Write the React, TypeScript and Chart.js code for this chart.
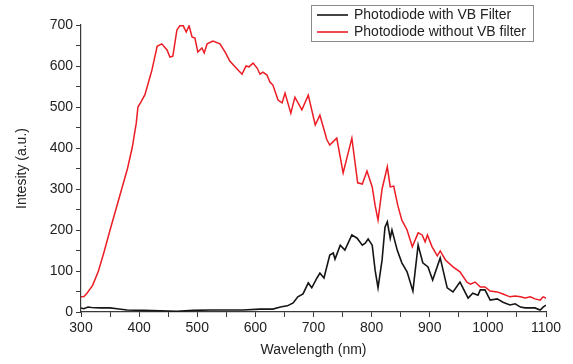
import React, { useEffect, useRef } from "react";
import { Chart, registerables } from "chart.js";

Chart.register(...registerables);

// Photodiode without VB filter (red)
const redWavelength = [
  300, 305, 310, 320, 330, 340, 350, 360, 370, 380, 388, 395, 398, 403, 410, 415, 422, 431, 439, 448,
  453, 458, 465, 470, 476, 481, 486, 491, 496, 501, 508, 512, 517, 527, 539, 548, 556, 565, 577, 584,
  589, 596, 603, 608, 613, 620, 625, 630, 639, 646, 651, 661, 668, 680, 691, 703, 711, 723, 728, 740,
  751, 766, 776, 784, 792, 801, 806, 811, 818, 827, 832, 838, 845, 852, 861, 870, 880, 887, 892, 896,
  904, 913, 918, 927, 940, 952, 964, 970, 978, 987, 995, 1004, 1016, 1026, 1038, 1047, 1056, 1064, 1073, 1081,
  1090, 1095, 1100,
];
const redIntensity = [
  37, 38, 45, 65, 100, 148, 200, 250, 300, 350, 400, 460, 500, 512, 530, 555, 590, 648, 654, 639,
  622, 624, 688, 698, 698, 683, 698, 671, 668, 634, 644, 632, 654, 661, 654, 634, 612, 598, 580, 600,
  598, 607, 595, 580, 585, 578, 561, 554, 517, 510, 534, 485, 524, 493, 529, 456, 480, 420, 407, 424,
  339, 424, 315, 312, 344, 305, 260, 224, 300, 354, 305, 307, 260, 224, 200, 159, 193, 188, 171, 188,
  159, 137, 149, 127, 110, 98, 73, 68, 73, 61, 61, 51, 49, 44, 37, 39, 37, 34, 37, 32,
  29, 37, 34,
];

// Photodiode with VB Filter (black)
const blackWavelength = [
  300, 305, 312, 318, 333, 350, 362, 379, 407, 436, 465, 493, 522, 551, 579, 608, 630, 643, 655, 665,
  673, 682, 691, 697, 706, 711, 718, 728, 734, 737, 746, 754, 766, 775, 784, 789, 794, 801, 806, 811,
  818, 823, 827, 832, 835, 844, 852, 861, 871, 880, 888, 897, 905, 918, 930, 940, 952, 966, 974, 983,
  987, 995, 1004, 1016, 1026, 1038, 1047, 1056, 1064, 1073, 1081, 1090, 1095, 1100,
];
const blackIntensity = [
  10, 8, 12, 11, 10, 10, 8, 5, 4, 3, 2, 4, 5, 5, 5, 7, 7, 12, 15, 22,
  37, 44, 71, 59, 83, 95, 83, 139, 144, 129, 163, 151, 188, 180, 163, 168, 178, 163, 102, 59,
  127, 207, 220, 180, 200, 151, 120, 98, 51, 163, 120, 110, 78, 132, 59, 49, 73, 34, 46, 41,
  54, 54, 29, 32, 24, 17, 20, 12, 10, 10, 10, 5, 12, 17,
];

const seriesLabels = ["Photodiode with VB Filter", "Photodiode without VB filter"];
const seriesColors = ["#151515", "#ec1c24"];

const xTitle = "Wavelength (nm)";
const yTitle = "Intesity (a.u.)";
const xMin = 300;
const xMax = 1100;
const yMin = 0;
const yMax = 700;
const minorStep = 50;
const majorStep = 100;

const FONT = "'Liberation Sans', Arial, Helvetica, sans-serif";
const AXIS_COLOR = "#3a3a3a";
const TEXT_COLOR = "#222";

const legendBoxPlugin = {
  id: "legendBox",
  afterDraw(chart: any) {
    const ctx = chart.ctx;
    const area = chart.chartArea;
    const boxLeft = area.right - 235;
    const boxTop = 4.5;
    const boxW = 222;
    const boxH = 36;
    ctx.save();
    ctx.fillStyle = "#ffffff";
    ctx.fillRect(boxLeft, boxTop, boxW, boxH);
    ctx.strokeStyle = "#8a8a8a";
    ctx.lineWidth = 1;
    ctx.strokeRect(Math.round(boxLeft) + 0.5, Math.round(boxTop) + 0.5, boxW, boxH);
    ctx.font = `14px ${FONT}`;
    ctx.textBaseline = "middle";
    ctx.textAlign = "left";
    const rows = [15, 32];
    chart.data.datasets.forEach((ds: any, i: number) => {
      const y = rows[i];
      ctx.strokeStyle = ds.borderColor;
      ctx.lineWidth = 1.6;
      ctx.beginPath();
      ctx.moveTo(boxLeft + 6, y);
      ctx.lineTo(boxLeft + 37, y);
      ctx.stroke();
      ctx.fillStyle = TEXT_COLOR;
      ctx.fillText(ds.label, boxLeft + 43, y + 0.5);
    });
    ctx.restore();
  },
};

export default function App() {
  const canvasRef = useRef<HTMLCanvasElement | null>(null);

  useEffect(() => {
    const canvas = canvasRef.current;
    if (!canvas) return;
    const blackPoints = blackWavelength.map((x, i) => ({ x, y: blackIntensity[i] }));
    const redPoints = redWavelength.map((x, i) => ({ x, y: redIntensity[i] }));

    const tickCb = (v: any) => (Number(v) % majorStep === 0 ? String(v) : "");

    const chart = new Chart(canvas, {
      type: "line",
      data: {
        datasets: [
          {
            label: seriesLabels[0],
            data: blackPoints,
            borderColor: seriesColors[0],
            borderWidth: 1.6,
            pointRadius: 0,
            tension: 0,
            fill: false,
          },
          {
            label: seriesLabels[1],
            data: redPoints,
            borderColor: seriesColors[1],
            borderWidth: 1.5,
            pointRadius: 0,
            tension: 0,
            fill: false,
          },
        ],
      },
      options: {
        responsive: false,
        animation: false,
        devicePixelRatio: 1,
        layout: { padding: { top: 25, right: 27, left: 0, bottom: 0 } },
        plugins: {
          legend: { display: false },
          tooltip: { enabled: false },
        },
        scales: {
          x: {
            type: "linear",
            min: xMin,
            max: xMax,
            afterFit(scale: any) {
              scale.height = 52;
            },
            border: { display: true, color: AXIS_COLOR, width: 1.2 },
            grid: {
              drawOnChartArea: false,
              drawTicks: true,
              tickLength: 5,
              color: AXIS_COLOR,
              lineWidth: 1,
            },
            ticks: {
              stepSize: minorStep,
              autoSkip: false,
              maxRotation: 0,
              padding: 3,
              color: TEXT_COLOR,
              font: { family: FONT, size: 14 },
              callback: tickCb,
            },
            title: {
              display: true,
              text: xTitle,
              color: TEXT_COLOR,
              font: { family: FONT, size: 14 },
              padding: { top: 0, bottom: 5 },
            },
          },
          y: {
            type: "linear",
            min: yMin,
            max: yMax,
            afterFit(scale: any) {
              scale.width = 81;
            },
            border: { display: true, color: AXIS_COLOR, width: 1.2 },
            grid: {
              drawOnChartArea: false,
              drawTicks: true,
              tickLength: 5,
              color: AXIS_COLOR,
              lineWidth: 1,
            },
            ticks: {
              stepSize: minorStep,
              autoSkip: false,
              padding: 3,
              color: TEXT_COLOR,
              font: { family: FONT, size: 14 },
              callback: tickCb,
            },
            title: {
              display: true,
              text: yTitle,
              color: TEXT_COLOR,
              font: { family: FONT, size: 14 },
              padding: { top: 14, bottom: 0 },
            },
          },
        },
      },
      plugins: [legendBoxPlugin],
    } as any);

    return () => {
      chart.destroy();
    };
  }, []);

  return (
    <div style={{ position: "absolute", left: 0, top: 0, width: 573, height: 364, background: "#fff" }}>
      <canvas ref={canvasRef} width={573} height={364} />
    </div>
  );
}
